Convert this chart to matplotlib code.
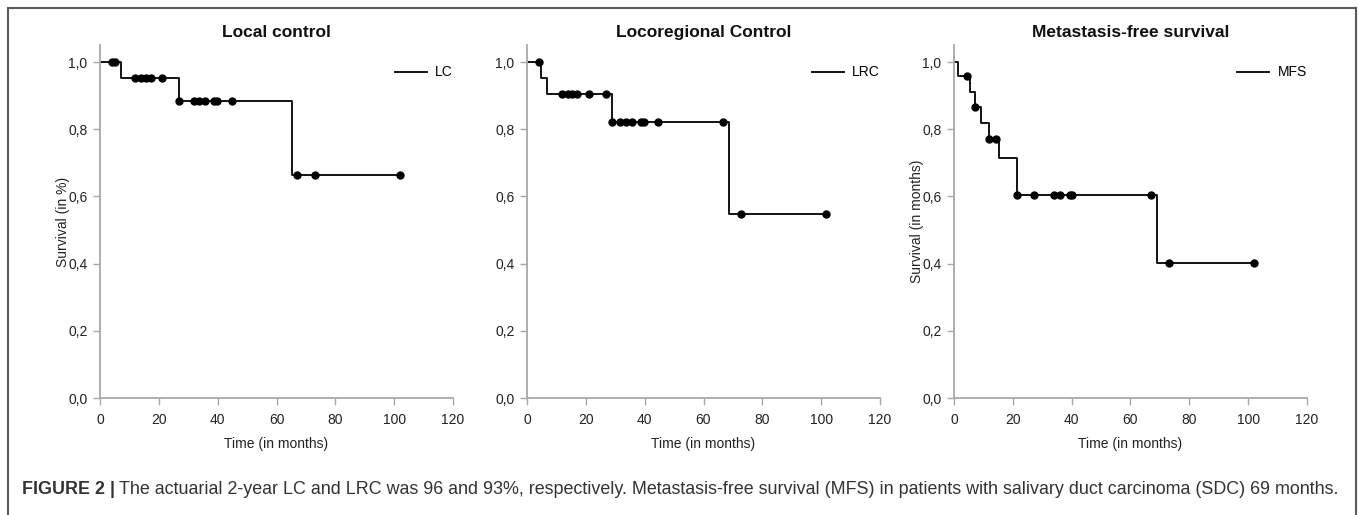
import numpy as np
import matplotlib
matplotlib.use("Agg")
import matplotlib.pyplot as plt
from matplotlib.patches import Rectangle
from matplotlib.ticker import FuncFormatter

plt.rcParams['font.family'] = ['Liberation Sans', 'DejaVu Sans']

# Kaplan-Meier curves: event times, survival after each step, censor times
lc_times = [7.2, 26.9, 65.1]
lc_surv = [0.952, 0.885, 0.664]
lc_censored = [4.0, 5.0, 11.9, 13.8, 15.5, 17.2, 21.0, 26.9, 31.9, 33.7, 35.8,
               38.8, 39.8, 45.0, 67.0, 73.0, 102.0]

lrc_times = [4.8, 6.8, 28.9, 68.7]
lrc_surv = [0.952, 0.905, 0.822, 0.548]
lrc_censored = [4.0, 11.8, 13.8, 15.3, 16.9, 21.0, 26.7, 28.9, 31.7, 33.6, 35.8,
                38.7, 39.7, 44.7, 66.7, 72.7, 101.6]

mfs_times = [1.2, 5.4, 7.2, 9.2, 12.0, 15.3, 21.3, 69.1]
mfs_surv = [0.957, 0.912, 0.866, 0.818, 0.770, 0.715, 0.605, 0.403]
mfs_censored = [4.3, 7.2, 12.0, 14.3, 21.3, 27.2, 34.0, 36.2, 39.4, 40.2, 67.1, 73.0, 102.0]

titles = ['Local control', 'Locoregional Control', 'Metastasis-free survival']
labels = ['LC', 'LRC', 'MFS']
ylabels = ['Survival (in %)', '', 'Survival (in months)']
x_ticks = [0, 20, 40, 60, 80, 100, 120]
y_ticks = [0.0, 0.2, 0.4, 0.6, 0.8, 1.0]

curves = [(lc_times, lc_surv, lc_censored),
          (lrc_times, lrc_surv, lrc_censored),
          (mfs_times, mfs_surv, mfs_censored)]

W, H = 1358, 515
fig = plt.figure(figsize=(W / 100, H / 100), dpi=100)

# outer frame of the figure box
fig.patches.append(Rectangle((8 / W, -0.05), (1356 - 8) / W, (H - 8) / H + 0.05,
                             transform=fig.transFigure, fill=False,
                             edgecolor='#5a5a5a', linewidth=1.5))

lefts = [100, 527, 954]
ax_w = 353 / W
ax_b = (H - 398) / H
ax_h = (398 - 45.2) / H

axis_grey = '#a8a8a8'

for i, (times, surv, cens) in enumerate(curves):
    ax = fig.add_axes([lefts[i] / W, ax_b, ax_w, ax_h])
    t = [0.0] + list(times) + [max(cens)]
    s = [1.0] + list(surv) + [surv[-1]]
    ax.step(t, s, where='post', color='black', linewidth=1.3, label=labels[i])
    # censor marks sit on the curve
    cy = [s[np.searchsorted(t, c, side='right') - 1] for c in cens]
    ax.plot(cens, cy, 'o', color='black', markersize=5, zorder=3)

    ax.set_xlim(0, 120)
    ax.set_ylim(0, 1.05)
    ax.set_xticks(x_ticks)
    ax.set_yticks(y_ticks)
    ax.yaxis.set_major_formatter(FuncFormatter(lambda v, p: f'{v:.1f}'.replace('.', ',')))
    for side in ['top', 'right']:
        ax.spines[side].set_visible(False)
    for side in ['left', 'bottom']:
        ax.spines[side].set_color(axis_grey)
        ax.spines[side].set_linewidth(1.3)
    ax.tick_params(direction='out', length=5, width=1.0, color=axis_grey,
                   labelsize=10, labelcolor='#222222', pad=4)
    ax.tick_params(axis='x', pad=6)
    ax.set_xlabel('Time (in months)', fontsize=10, color='#222222', labelpad=7)
    if ylabels[i]:
        ax.set_ylabel(ylabels[i], fontsize=10, color='#222222', labelpad=-1)
    ax.text(0.5, 1.035, titles[i], transform=ax.transAxes, ha='center', va='center',
            fontsize=12.5, fontweight='bold', color='#111111')
    ax.legend(loc='center right', bbox_to_anchor=(1.0, 0.923), frameon=False,
              fontsize=10, handlelength=2.3, handletextpad=0.6,
              borderpad=0, borderaxespad=0)

fig.text(22 / W, 1 - 489 / H, 'FIGURE 2 |', fontsize=12.9, fontweight='bold',
         color='#333333', va='center', ha='left')
fig.text(119 / W, 1 - 489 / H,
         'The actuarial 2-year LC and LRC was 96 and 93%, respectively. '
         'Metastasis-free survival (MFS) in patients with salivary duct carcinoma (SDC) 69 months.',
         fontsize=12.9, color='#333333', va='center', ha='left')

fig.savefig('out.png', dpi=100)
